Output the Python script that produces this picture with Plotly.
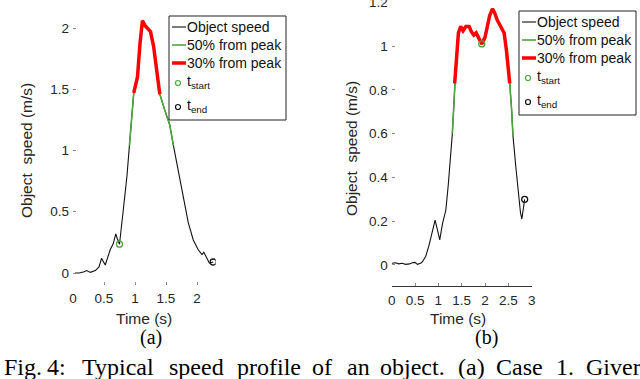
import plotly.graph_objects as go

# ── Data ─────────────────────────────────────────────────────────
# (a) Case 1
time_a = [0.03, 0.10, 0.18, 0.22, 0.28, 0.36, 0.42, 0.46, 0.52, 0.56, 0.60,
          0.65, 0.69, 0.715, 0.75, 0.81, 0.87, 0.91, 0.95, 0.98, 1.04, 1.08,
          1.12, 1.16, 1.20, 1.25, 1.30, 1.35, 1.40, 1.48, 1.56, 1.62, 1.70,
          1.78, 1.86, 1.94, 2.02, 2.08, 2.11, 2.16, 2.20, 2.26]
speed_a = [0.0, 0.0, 0.01, 0.02, 0.005, 0.02, 0.05, 0.12, 0.065, 0.12, 0.19,
           0.24, 0.32, 0.28, 0.235, 0.51, 0.79, 1.04, 1.25, 1.47, 1.60, 1.87,
           2.06, 2.02, 2.00, 1.97, 1.85, 1.63, 1.46, 1.33, 1.21, 1.04, 0.84,
           0.62, 0.41, 0.27, 0.19, 0.15, 0.17, 0.12, 0.08, 0.09]
t_start_a, v_start_a = 0.75, 0.235
t_end_a, v_end_a = 2.26, 0.09

# (b)
time_b = [0.0, 0.08, 0.15, 0.22, 0.30, 0.38, 0.44, 0.50, 0.55, 0.62, 0.66,
          0.73, 0.80, 0.87, 0.93, 0.98, 1.03, 1.09, 1.16, 1.21, 1.26, 1.30,
          1.33, 1.35, 1.39, 1.43, 1.48, 1.53, 1.59, 1.66, 1.71, 1.76, 1.81,
          1.87, 1.93, 2.00, 2.05, 2.10, 2.16, 2.21, 2.26, 2.34, 2.41, 2.46,
          2.50, 2.53, 2.57, 2.60, 2.66, 2.71, 2.76, 2.79, 2.81, 2.85]
speed_b = [0.008, 0.01, 0.005, 0.008, 0.003, 0.005, 0.01, 0.012, 0.003, 0.008,
           0.015, 0.04, 0.09, 0.16, 0.205, 0.16, 0.115, 0.19, 0.25, 0.36, 0.48,
           0.60, 0.72, 0.83, 0.97, 1.06, 1.09, 1.07, 1.09, 1.09, 1.065, 1.05,
           1.06, 1.035, 1.01, 1.04, 1.09, 1.14, 1.17, 1.15, 1.12, 1.09, 1.06,
           0.98, 0.91, 0.83, 0.71, 0.59, 0.45, 0.33, 0.24, 0.21, 0.25, 0.30]
t_start_b, v_start_b = 1.93, 1.01
t_end_b, v_end_b = 2.85, 0.30

ticks_a_x = [0, 0.5, 1, 1.5, 2]
ticks_a_y = [0, 0.5, 1, 1.5, 2]
ticks_b_x = [0, 0.5, 1, 1.5, 2, 2.5, 3]
ticks_b_y = [0, 0.2, 0.4, 0.6, 0.8, 1, 1.2]

caption_words = ["Fig.", "4:", "Typical", "speed", "profile", "of", "an",
                 "object.", "(a)", "Case", "1.", "Giver"]
caption_x = [2, 45, 80, 167, 235, 310, 345, 378, 456, 494, 554, 584]

# ── Style ────────────────────────────────────────────────────────
W, H = 640, 379
SANS = "Liberation Sans, Arial, sans-serif"
SERIF = "Liberation Serif, Times New Roman, serif"
TXT = "#262626"
GREEN = "#4ca83d"
RED = "#ff0000"


def px(x):
    return x / W


def py(y):
    return 1 - y / H


def above(v, thr):
    return [s if s >= thr else None for s in v]


fig = go.Figure()

for t, v, ts, vs, te, ve, xa, ya in [
    (time_a, speed_a, t_start_a, v_start_a, t_end_a, v_end_a, "x", "y"),
    (time_b, speed_b, t_start_b, v_start_b, t_end_b, v_end_b, "x2", "y2"),
]:
    peak = max(v)
    fig.add_trace(go.Scatter(x=t, y=v, mode="lines", xaxis=xa, yaxis=ya,
                             line=dict(color="#111111", width=1.1)))
    fig.add_trace(go.Scatter(x=t, y=above(v, 0.5 * peak), mode="lines",
                             xaxis=xa, yaxis=ya,
                             line=dict(color=GREEN, width=1.6)))
    fig.add_trace(go.Scatter(x=t, y=above(v, 0.7 * peak), mode="lines",
                             xaxis=xa, yaxis=ya,
                             line=dict(color=RED, width=3.5)))
    fig.add_trace(go.Scatter(x=[ts], y=[vs], mode="markers", xaxis=xa, yaxis=ya,
                             marker=dict(symbol="circle-open", size=6,
                                         color=GREEN, line=dict(width=1.3))))
    fig.add_trace(go.Scatter(x=[te], y=[ve], mode="markers", xaxis=xa, yaxis=ya,
                             marker=dict(symbol="circle-open", size=6,
                                         color="#111111", line=dict(width=1.3))))

axis_common = dict(showgrid=False, zeroline=False, ticks="inside", ticklen=3,
                   tickcolor="#888888", tickfont=dict(family=SANS, size=13.5, color=TXT),
                   ticklabeloverflow="allow", automargin=False, fixedrange=True)

fig.update_layout(
    width=W, height=H,
    margin=dict(l=0, r=0, t=0, b=0),
    paper_bgcolor="white", plot_bgcolor="white",
    showlegend=False,
    xaxis=dict(domain=[px(73), px(215.6)], range=[0, 2.3], tickvals=ticks_a_x,
               showline=False, anchor="y", ticklabelstandoff=3, **axis_common),
    yaxis=dict(domain=[py(285.25), py(15.75)], range=[-0.1, 2.1],
               tickvals=ticks_a_y, showline=False, anchor="x",
               ticklabelstandoff=3, **axis_common),
    xaxis2=dict(domain=[px(391.7), px(531.7)], range=[0, 3.001], tickvals=ticks_b_x,
                showline=True, linecolor="#333333", linewidth=1, anchor="y2",
                ticklabelstandoff=2, **axis_common),
    yaxis2=dict(domain=[py(286), py(2.2)], range=[-0.096, 1.2005],
                tickvals=ticks_b_y, showline=False, anchor="x2",
                ticklabelstandoff=3, **axis_common),
)

# ── Axis titles, panel labels, caption ───────────────────────────
ann = []
for xc, yc in [(27, 151), (351, 149)]:
    ann.append(dict(x=px(xc), y=py(yc), text="Object\u00a0 speed (m/s)",
                    textangle=-90, font=dict(family=SANS, size=15.5, color=TXT)))
for xc in [144, 458]:
    ann.append(dict(x=px(xc), y=py(318), text="Time (s)",
                    font=dict(family=SANS, size=15.5, color=TXT)))
for xc, lab in [(151, "(a)"), (486.5, "(b)")]:
    ann.append(dict(x=px(xc), y=py(337), text=lab,
                    font=dict(family=SERIF, size=20, color="#000000")))
for word, xl in zip(caption_words, caption_x):
    ann.append(dict(x=px(xl), y=py(367), text=word, xanchor="left",
                    font=dict(family=SERIF, size=24, color="#000000")))

# ── MATLAB-style legends ─────────────────────────────────────────
shapes = []
row_off = [11, 29, 47, 67, 91]
for left, top, right in [(169, 16, 286), (519, 11, 636)]:
    shapes.append(dict(type="rect", xref="paper", yref="paper",
                       x0=px(left), x1=px(right), y0=py(top), y1=py(top + 104),
                       line=dict(color="#222222", width=1), fillcolor="white",
                       layer="above"))
    rows = [top + o for o in row_off]
    for r, col, wd in zip(rows[:3], ["#111111", GREEN, RED], [1.1, 1.6, 3.5]):
        shapes.append(dict(type="line", xref="paper", yref="paper",
                           x0=px(left + 3), x1=px(left + 17), y0=py(r), y1=py(r),
                           line=dict(color=col, width=wd), layer="above"))
    for r, col in zip(rows[3:], [GREEN, "#111111"]):
        shapes.append(dict(type="circle", xref="paper", yref="paper",
                           x0=px(left + 6.5), x1=px(left + 11.5),
                           y0=py(r + 2.5), y1=py(r - 2.5),
                           line=dict(color=col, width=1.2), layer="above"))
    labels = ["Object speed", "50% from peak", "30% from peak",
              "t<sub>start</sub>", "t<sub>end</sub>"]
    for r, lab in zip(rows, labels):
        yy = r if "<sub>" not in lab else r - 1
        ann.append(dict(x=px(left + 16), y=py(yy), text=lab, xanchor="left",
                        font=dict(family=SANS, size=14, color="#111111")))

for a in ann:
    a.setdefault("xref", "paper")
    a.setdefault("yref", "paper")
    a.setdefault("showarrow", False)
    a.setdefault("xanchor", "center")
    a.setdefault("yanchor", "middle")

fig.update_layout(annotations=ann, shapes=shapes)

fig.write_html("out.html", config={"displayModeBar": False},
               post_script="document.body.style.margin='0';")
